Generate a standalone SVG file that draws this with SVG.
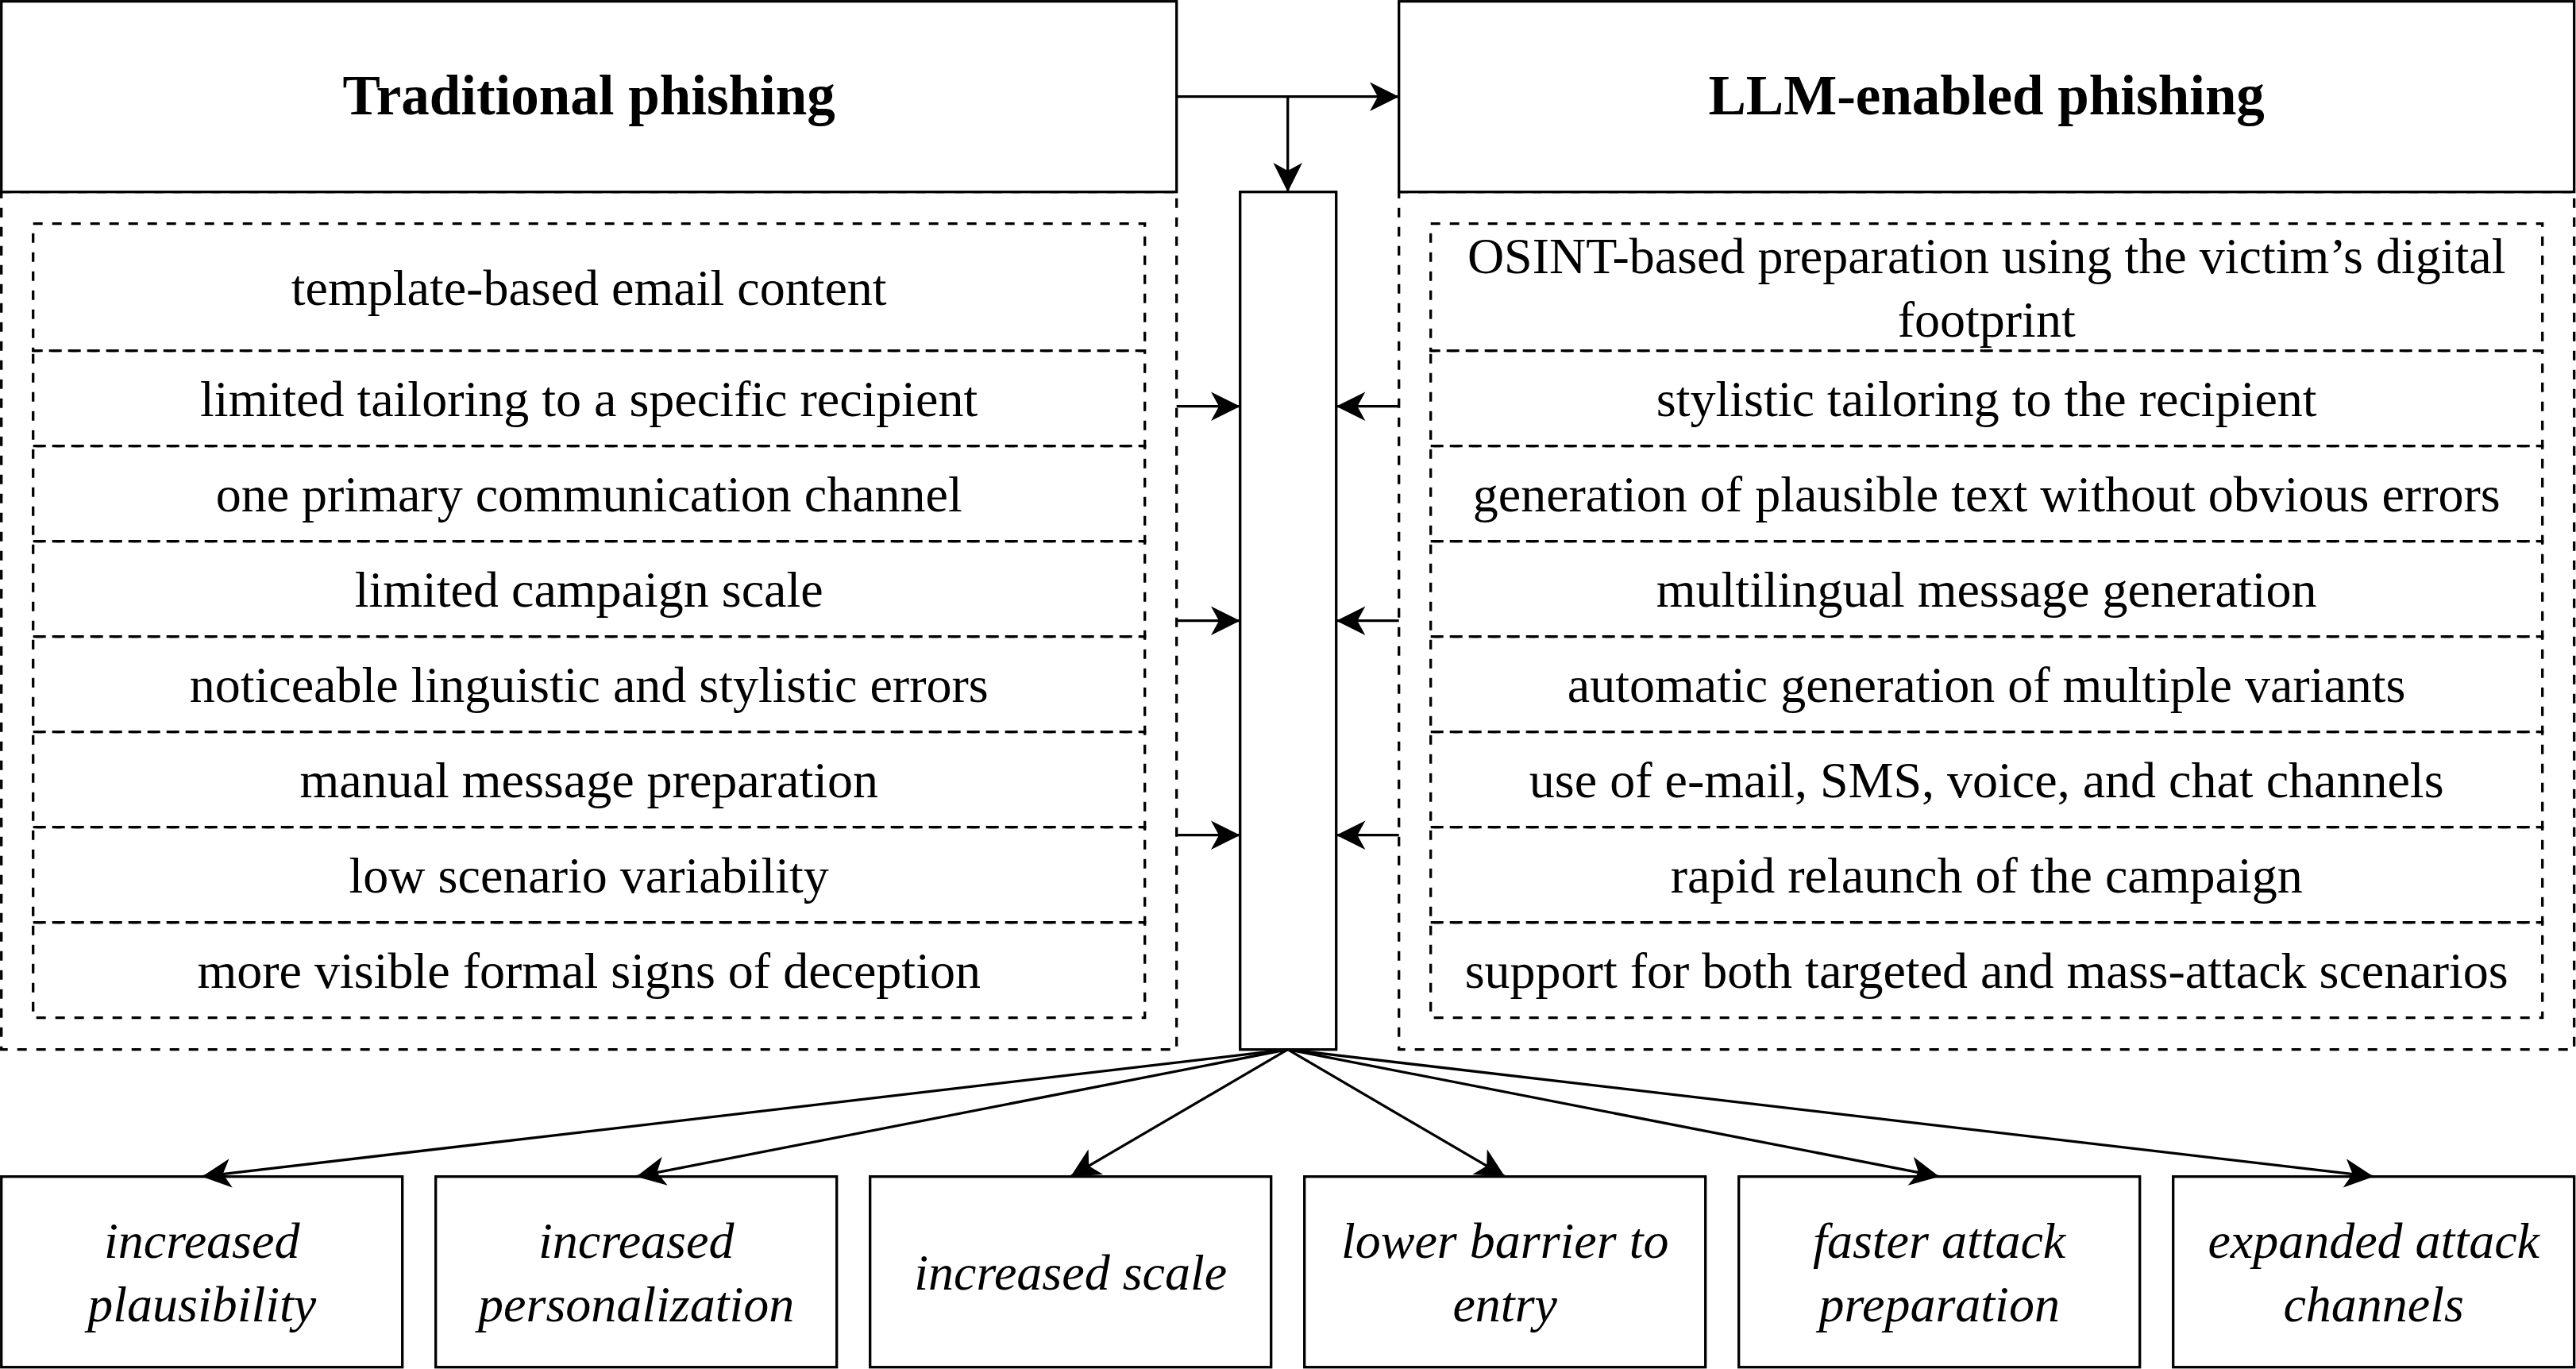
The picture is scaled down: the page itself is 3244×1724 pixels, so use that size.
<svg xmlns="http://www.w3.org/2000/svg" width="3244" height="1724" viewBox="0 0 3244 1724">
<style>
  .solid{fill:#ffffff;stroke:#000000;stroke-width:3.3}
  .dash{fill:none;stroke:#000000;stroke-width:3.3;stroke-dasharray:12 12}
  .conn{fill:none;stroke:#000000;stroke-width:3.3}
  .title{font-family:"Liberation Serif","Times New Roman",serif;font-weight:bold;font-size:71px;text-anchor:middle;fill:#000}
  .body{font-family:"Liberation Serif","Times New Roman",serif;font-size:64px;text-anchor:middle;fill:#000}
  .ital{font-family:"Liberation Serif","Times New Roman",serif;font-style:italic;font-size:64px;text-anchor:middle;fill:#000}
</style>
<defs>
  <marker id="arr" markerUnits="userSpaceOnUse" viewBox="-38 -20 40 40" refX="0" refY="0" markerWidth="40" markerHeight="40" orient="auto">
    <path d="M0,0 L-36.7,-18.3 L-26.7,0 L-36.7,18.3 Z" fill="#000"/>
  </marker>
</defs>
<rect width="3244" height="1724" fill="#ffffff"/>

<g id="trad-container">
  <rect class="dash" x="1.7" y="241.7" width="1480" height="1080"/>
</g>
<g id="llm-container">
  <rect class="dash" x="1761.7" y="241.7" width="1480" height="1080"/>
</g>

<g id="traditional-phishing">
  <rect class="solid" x="1.7" y="1.7" width="1480" height="240"/>
  <text class="title" x="741.7" y="144">Traditional phishing</text>
</g>
<g id="llm-phishing">
  <rect class="solid" x="1761.7" y="1.7" width="1480" height="240"/>
  <text class="title" x="2501.7" y="144">LLM-enabled phishing</text>
</g>

<g id="trad-items">
  <g id="t1"><rect class="dash" x="41.7" y="281.7" width="1400" height="160"/><text class="body" x="741.7" y="384">template-based email content</text></g>
  <g id="t2"><rect class="dash" x="41.7" y="441.7" width="1400" height="120"/><text class="body" x="741.7" y="524">limited tailoring to a specific recipient</text></g>
  <g id="t3"><rect class="dash" x="41.7" y="561.7" width="1400" height="120"/><text class="body" x="741.7" y="644">one primary communication channel</text></g>
  <g id="t4"><rect class="dash" x="41.7" y="681.7" width="1400" height="120"/><text class="body" x="741.7" y="764">limited campaign scale</text></g>
  <g id="t5"><rect class="dash" x="41.7" y="801.7" width="1400" height="120"/><text class="body" x="741.7" y="884">noticeable linguistic and stylistic errors</text></g>
  <g id="t6"><rect class="dash" x="41.7" y="921.7" width="1400" height="120"/><text class="body" x="741.7" y="1004">manual message preparation</text></g>
  <g id="t7"><rect class="dash" x="41.7" y="1041.7" width="1400" height="120"/><text class="body" x="741.7" y="1124">low scenario variability</text></g>
  <g id="t8"><rect class="dash" x="41.7" y="1161.7" width="1400" height="120"/><text class="body" x="741.7" y="1244">more visible formal signs of deception</text></g>
</g>

<g id="llm-items">
  <g id="l1"><rect class="dash" x="1801.7" y="281.7" width="1400" height="160"/><text class="body" x="2501.7" y="344">OSINT-based preparation using the victim’s digital</text><text class="body" x="2501.7" y="424">footprint</text></g>
  <g id="l2"><rect class="dash" x="1801.7" y="441.7" width="1400" height="120"/><text class="body" x="2501.7" y="524">stylistic tailoring to the recipient</text></g>
  <g id="l3"><rect class="dash" x="1801.7" y="561.7" width="1400" height="120"/><text class="body" x="2501.7" y="644">generation of plausible text without obvious errors</text></g>
  <g id="l4"><rect class="dash" x="1801.7" y="681.7" width="1400" height="120"/><text class="body" x="2501.7" y="764">multilingual message generation</text></g>
  <g id="l5"><rect class="dash" x="1801.7" y="801.7" width="1400" height="120"/><text class="body" x="2501.7" y="884">automatic generation of multiple variants</text></g>
  <g id="l6"><rect class="dash" x="1801.7" y="921.7" width="1400" height="120"/><text class="body" x="2501.7" y="1004">use of e-mail, SMS, voice, and chat channels</text></g>
  <g id="l7"><rect class="dash" x="1801.7" y="1041.7" width="1400" height="120"/><text class="body" x="2501.7" y="1124">rapid relaunch of the campaign</text></g>
  <g id="l8"><rect class="dash" x="1801.7" y="1161.7" width="1400" height="120"/><text class="body" x="2501.7" y="1244">support for both targeted and mass-attack scenarios</text></g>
</g>

<g id="center">
  <rect class="solid" x="1561.7" y="241.7" width="121" height="1080"/>
</g>

<g id="outcomes">
  <g id="o1"><rect class="solid" x="1.7" y="1481.7" width="505" height="240"/><text class="ital" x="254.2" y="1584">increased</text><text class="ital" x="254.2" y="1664">plausibility</text></g>
  <g id="o2"><rect class="solid" x="548.7" y="1481.7" width="505" height="240"/><text class="ital" x="801.2" y="1584">increased</text><text class="ital" x="801.2" y="1664">personalization</text></g>
  <g id="o3"><rect class="solid" x="1095.7" y="1481.7" width="505" height="240"/><text class="ital" x="1348.2" y="1624">increased scale</text></g>
  <g id="o4"><rect class="solid" x="1642.7" y="1481.7" width="505" height="240"/><text class="ital" x="1895.2" y="1584">lower barrier to</text><text class="ital" x="1895.2" y="1664">entry</text></g>
  <g id="o5"><rect class="solid" x="2189.7" y="1481.7" width="505" height="240"/><text class="ital" x="2442.2" y="1584">faster attack</text><text class="ital" x="2442.2" y="1664">preparation</text></g>
  <g id="o6"><rect class="solid" x="2736.7" y="1481.7" width="505" height="240"/><text class="ital" x="2989.2" y="1584">expanded attack</text><text class="ital" x="2989.2" y="1664">channels</text></g>
</g>

<g id="connectors">
  <path class="conn" d="M1481.7,121.7 L1761.7,121.7" marker-end="url(#arr)"/>
  <path class="conn" d="M1621.7,121.7 L1621.7,241.7" marker-end="url(#arr)"/>
  <path class="conn" d="M1481.7,511.7 L1561.7,511.7" marker-end="url(#arr)"/>
  <path class="conn" d="M1481.7,781.7 L1561.7,781.7" marker-end="url(#arr)"/>
  <path class="conn" d="M1481.7,1051.7 L1561.7,1051.7" marker-end="url(#arr)"/>
  <path class="conn" d="M1761.7,511.7 L1682.7,511.7" marker-end="url(#arr)"/>
  <path class="conn" d="M1761.7,781.7 L1682.7,781.7" marker-end="url(#arr)"/>
  <path class="conn" d="M1761.7,1051.7 L1682.7,1051.7" marker-end="url(#arr)"/>
  <path class="conn" d="M1621.7,1321.7 L254.2,1481.7" marker-end="url(#arr)"/>
  <path class="conn" d="M1621.7,1321.7 L801.2,1481.7" marker-end="url(#arr)"/>
  <path class="conn" d="M1621.7,1321.7 L1348.2,1481.7" marker-end="url(#arr)"/>
  <path class="conn" d="M1621.7,1321.7 L1895.2,1481.7" marker-end="url(#arr)"/>
  <path class="conn" d="M1621.7,1321.7 L2442.2,1481.7" marker-end="url(#arr)"/>
  <path class="conn" d="M1621.7,1321.7 L2989.2,1481.7" marker-end="url(#arr)"/>
</g>
</svg>
